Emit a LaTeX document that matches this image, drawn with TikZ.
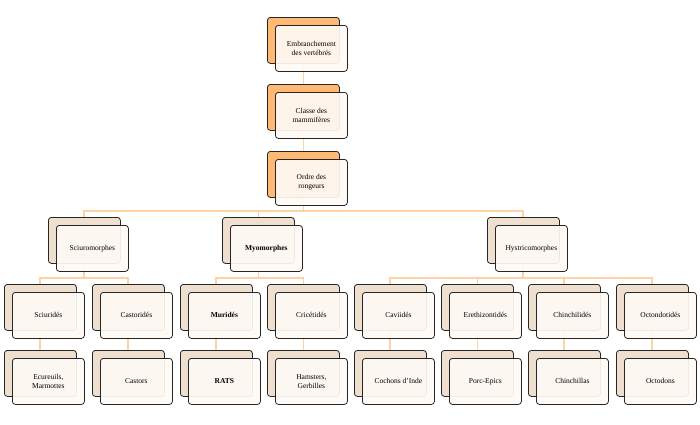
\documentclass[tikz,border=0pt]{standalone}
\usepackage{fontspec}
\setmainfont{Liberation Serif}
\begin{document}
\begin{tikzpicture}[x=1pt,y=-1pt,
 back/.style={draw=black!85,line width=0.8pt,rounded corners=3pt,minimum width=72pt,minimum height=46pt,inner sep=0pt},
 orb/.style={back,fill=orange!55!white},
 tanb/.style={back,fill=brown!25!white},
 front/.style={draw=black!85,line width=0.8pt,rounded corners=3pt,fill=orange!4!white,fill opacity=0.92,text opacity=1,minimum width=72pt,minimum height=46pt,align=center,font=\fontsize{7.5}{9}\selectfont,inner sep=1pt},
 con/.style={draw=orange!35!white,line width=1.2pt}]
\path[use as bounding box] (0,0) rectangle (700,424);
% connectors
\newcommand{\mybox}[5]{% name, x(back left), y(back top), style, text
 \node[#4,anchor=north west] (#1b) at (#2,#3) {};
 \node[front,anchor=north west] (#1) at (#2+8,#3+8) {#5};}
\begin{scope}
\coordinate (c1) at (303.5,63); \coordinate (c2) at (303.5,84);
\end{scope}
\draw[con] (303.5,63) -- (303.5,84) (303.5,130) -- (303.5,151) (303.5,197) -- (303.5,211);
\draw[con] (84,217) |- (523,211) -- (523,217) (258.5,211) -- (258.5,217);
\draw[con] (40,284) |- (128,278) -- (128,284) (84,263) -- (84,278);
\draw[con] (216,284) |- (303.5,278) -- (303.5,284) (258.5,263) -- (258.5,278);
\draw[con] (390,284) |- (652,278) -- (652,284) (477.5,278) -- (477.5,284) (564,278)--(564,284) (523,263) -- (523,278);
\foreach \x in {40,128,216,303.5,390,477.5,564,652} \draw[con] (\x,330) -- (\x,350);
\mybox{a}{267}{17}{orb}{Embranchement\\des vertébrés}
\mybox{b}{267}{84}{orb}{Classe des\\mammifères}
\mybox{c}{267}{151}{orb}{Ordre des\\rongeurs}
\mybox{d}{48}{217}{tanb}{Sciuromorphes}
\mybox{e}{222}{217}{tanb}{\textbf{Myomorphes}}
\mybox{f}{487}{217}{tanb}{Hystricomorphes}
\mybox{g1}{4}{284}{tanb}{Sciuridés}
\mybox{g2}{92}{284}{tanb}{Castoridés}
\mybox{g3}{180}{284}{tanb}{\textbf{Muridés}}
\mybox{g4}{267}{284}{tanb}{Cricétidés}
\mybox{g5}{354}{284}{tanb}{Caviidés}
\mybox{g6}{441}{284}{tanb}{Erethizontidés}
\mybox{g7}{528}{284}{tanb}{Chinchilidés}
\mybox{g8}{616}{284}{tanb}{Octondotidés}
\mybox{h1}{4}{350}{tanb}{Ecureuils,\\Marmottes}
\mybox{h2}{92}{350}{tanb}{Castors}
\mybox{h3}{180}{350}{tanb}{\textbf{RATS}}
\mybox{h4}{267}{350}{tanb}{Hamsters,\\Gerbilles}
\mybox{h5}{354}{350}{tanb}{Cochons d'Inde}
\mybox{h6}{441}{350}{tanb}{Porc-Epics}
\mybox{h7}{528}{350}{tanb}{Chinchillas}
\mybox{h8}{616}{350}{tanb}{Octodons}
\end{tikzpicture}
\end{document}
